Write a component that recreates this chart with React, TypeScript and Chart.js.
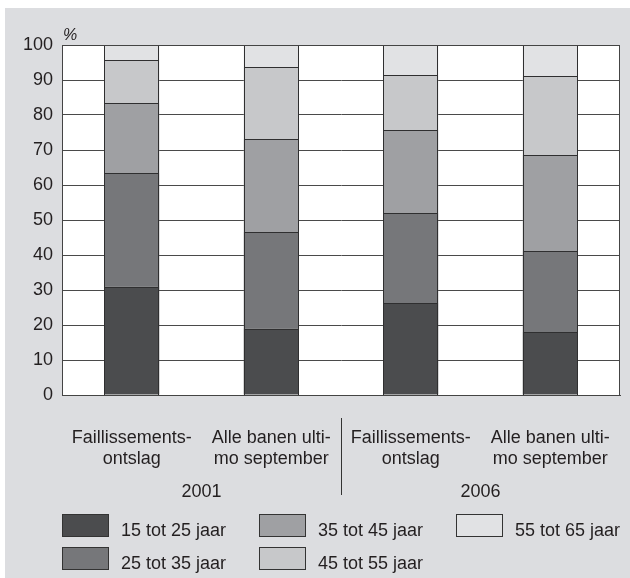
import React, { useEffect, useRef } from "react";
import { Chart, registerables } from "chart.js";
Chart.register(...registerables);

const FONT = '"Liberation Sans", Arial, Helvetica, sans-serif';
const TEXT = "#231f20";

const categories: string[][] = [
  ["Faillissements-", "ontslag"],
  ["Alle banen ulti-", "mo september"],
  ["Faillissements-", "ontslag"],
  ["Alle banen ulti-", "mo september"],
];
const years = ["2001", "2006"];
const seriesNames = ["15 tot 25 jaar", "25 tot 35 jaar", "35 tot 45 jaar", "45 tot 55 jaar", "55 tot 65 jaar"];
const s15to25 = [31, 19, 26.3, 18];
const s25to35 = [32.4, 27.6, 25.7, 23.1];
const s35to45 = [20, 26.5, 23.7, 27.5];
const s45to55 = [12.3, 20.6, 15.6, 22.4];
const s55to65 = [4.3, 6.3, 8.7, 9.0];
const seriesValues = [s15to25, s25to35, s35to45, s45to55, s55to65];
const colors = ["#4b4c4e", "#76777a", "#9fa0a3", "#c7c8ca", "#e1e2e4"];
const yTicks = [0, 10, 20, 30, 40, 50, 60, 70, 80, 90, 100];

const bgPlugin = {
  id: "bg",
  beforeDraw(chart: any) {
    const { ctx, chartArea } = chart;
    ctx.save();
    ctx.fillStyle = "#ffffff";
    ctx.fillRect(0, 0, chart.width, chart.height);
    ctx.fillStyle = "#dcdde0";
    ctx.fillRect(5, 8, chart.width - 5, chart.height - 8);
    ctx.fillStyle = "#ffffff";
    ctx.fillRect(chartArea.left, chartArea.top, chartArea.right - chartArea.left, chartArea.bottom - chartArea.top);
    ctx.restore();
  },
};

const px = (v: number) => Math.round(v) + 0.5;

const decorPlugin = {
  id: "decor",
  afterDatasetsDraw(chart: any) {
    const { ctx } = chart;
    ctx.save();
    ctx.strokeStyle = "#2f2f30";
    ctx.lineWidth = 1;
    chart.data.datasets.forEach((_ds: any, di: number) => {
      const meta = chart.getDatasetMeta(di);
      meta.data.forEach((el: any) => {
        const l = px(el.x - el.width / 2);
        const r = px(el.x + el.width / 2) - 1;
        const t = px(Math.min(el.y, el.base));
        const b = px(Math.max(el.y, el.base));
        ctx.strokeRect(l, t, r - l, b - t);
      });
    });
    ctx.restore();
  },
  afterDraw(chart: any) {
    const { ctx, chartArea } = chart;
    const xs = chart.scales.x;
    ctx.save();
    // frame
    ctx.strokeStyle = "#444";
    ctx.lineWidth = 1;
    ctx.strokeRect(chartArea.left + 0.5, chartArea.top + 0.5, chartArea.right - chartArea.left - 1, chartArea.bottom - chartArea.top);
    // percent sign
    ctx.fillStyle = TEXT;
    ctx.font = `italic 16px ${FONT}`;
    ctx.textAlign = "left";
    ctx.textBaseline = "alphabetic";
    ctx.fillText("%", chartArea.left + 1, 40);
    // separator
    const sepX = Math.round((xs.getPixelForValue(1) + xs.getPixelForValue(2)) / 2) + 0.5;
    ctx.beginPath();
    ctx.moveTo(sepX, 418);
    ctx.lineTo(sepX, 495);
    ctx.strokeStyle = "#333";
    ctx.stroke();
    // years
    ctx.font = `18px ${FONT}`;
    ctx.textAlign = "center";
    years.forEach((yr, i) => {
      const cx = (xs.getPixelForValue(i * 2) + xs.getPixelForValue(i * 2 + 1)) / 2;
      ctx.fillText(yr, cx, 497);
    });
    // legend
    const cols = [62, 259, 456];
    const rows = [514, 547];
    ctx.textAlign = "left";
    chart.data.datasets.forEach((ds: any, i: number) => {
      const c = Math.floor(i / 2);
      const r = i % 2;
      const bx = cols[c];
      const by = rows[r];
      ctx.fillStyle = ds.backgroundColor;
      ctx.fillRect(bx, by, 47, 23);
      ctx.strokeStyle = "#333";
      ctx.strokeRect(bx + 0.5, by + 0.5, 46, 22);
      ctx.fillStyle = TEXT;
      ctx.fillText(ds.label, bx + 59, by + 22);
    });
    ctx.restore();
  },
};

export default function App() {
  const ref = useRef<HTMLCanvasElement>(null);
  useEffect(() => {
    const chart = new Chart(ref.current as HTMLCanvasElement, {
      type: "bar",
      data: {
        labels: categories as any,
        datasets: seriesNames.map((n, i) => ({
          label: n,
          data: seriesValues[i],
          backgroundColor: colors[i],
          borderWidth: 0,
          barPercentage: 0.394,
          categoryPercentage: 1,
        })),
      },
      options: {
        responsive: false,
        animation: false,
        layout: { padding: { top: 45, right: 10, left: 0, bottom: 0 } },
        plugins: { legend: { display: false }, tooltip: { enabled: false } },
        scales: {
          x: {
            stacked: true,
            grid: { display: false, drawTicks: false },
            border: { display: true, color: "#444" },
            ticks: { font: { family: FONT, size: 18, lineHeight: 1.2 }, color: TEXT, padding: 32, maxRotation: 0, autoSkip: false },
            afterFit: (s: any) => {
              s.height = 183;
              s.paddingLeft = 0;
              s.paddingRight = 0;
            },
          },
          y: {
            stacked: true,
            min: 0,
            max: 100,
            afterBuildTicks: (s: any) => {
              s.ticks = yTicks.map((v) => ({ value: v }));
            },
            ticks: { font: { family: FONT, size: 18 }, color: TEXT, padding: 9 },
            grid: { color: "#4a4a4a", drawTicks: false },
            border: { color: "#444" },
            afterFit: (s: any) => {
              s.width = 62;
              s.paddingTop = 0;
              s.paddingBottom = 0;
            },
          },
        },
      },
      plugins: [bgPlugin, decorPlugin],
    });
    return () => chart.destroy();
  }, []);
  return (
    <div style={{ position: "absolute", left: 0, top: 0, width: 630, height: 578 }}>
      <canvas ref={ref} width={630} height={578} style={{ width: 630, height: 578, display: "block" }} />
    </div>
  );
}
